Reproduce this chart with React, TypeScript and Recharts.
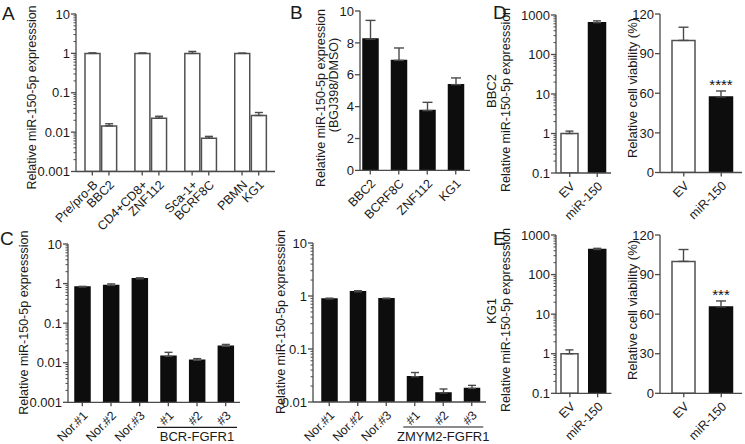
import React from 'react';
import { BarChart, Bar, XAxis, YAxis, ErrorBar, Cell, LabelList } from 'recharts';

const FONT = "Arial, 'Liberation Sans', Helvetica, sans-serif";
const TEXT = '#1a1a1a';
const AXIS = '#4a4a4a';
const TS = 5;
const TM = 2;

// ---------- Panel A ----------
const aCategories = ['Pre/pro-B', 'BBC2', ' ', 'CD4+CD8+', 'ZNF112', '  ', 'Sca-1+', 'BCRF8C', '   ', 'PBMN', 'KG1'];
const aValues = [1, 0.0144, null, 1, 0.0226, null, 1, 0.007, null, 1, 0.0265];
const aErrors = [0.03, 0.0019, null, 0.02, 0.0027, null, 0.12, 0.0008, null, 0.01, 0.005];
const aFills = ['w', 'w', 'w', 'w', 'w', 'w', 'w', 'w', 'w', 'w', 'w'];
const aTicks = [0.001, 0.01, 0.1, 1, 10];

// ---------- Panel B ----------
const bCategories = ['BBC2', 'BCRF8C', 'ZNF112', 'KG1'];
const bValues = [8.24, 6.9, 3.75, 5.38];
const bErrors = [1.17, 0.78, 0.52, 0.42];
const bFills = ['k', 'k', 'k', 'k'];
const bTicks = [0, 2, 4, 6, 8, 10];

// ---------- Panel C ----------
const cCategories = ['Nor.#1', 'Nor.#2', 'Nor.#3', '#1', '#2', '#3'];
const cLeftValues = [0.82, 0.9, 1.32, 0.0145, 0.0115, 0.026];
const cLeftErrors = [0.03, 0.08, 0.08, 0.0038, 0.0012, 0.003];
const cRightValues = [0.88, 1.2, 0.89, 0.03, 0.0148, 0.018];
const cRightErrors = [0.03, 0.06, 0.02, 0.006, 0.0028, 0.0026];
const cFills = ['k', 'k', 'k', 'k', 'k', 'k'];
const cLeftTicks = [0.001, 0.01, 0.1, 1, 10];
const cRightTicks = [0.01, 0.1, 1, 10];
const cLeftGroup = 'BCR-FGFR1';
const cRightGroup = 'ZMYM2-FGFR1';

// ---------- Panels D / E ----------
const deCategories = ['EV', 'miR-150'];
const deFills = ['w', 'k'];
const dExprValues = [1.0, 640];
const dExprErrors = [0.15, 70];
const dViabValues = [100, 57.2];
const dViabErrors = [10, 4.5];
const dSig = ['', '****'];
const eExprValues = [1.0, 430];
const eExprErrors = [0.25, 30];
const eViabValues = [100, 65.5];
const eViabErrors = [9, 4.5];
const eSig = ['', '***'];
const exprTicks = [0.1, 1, 10, 100, 1000];
const viabTicks = [0, 30, 60, 90, 120];

function withMinor(majors: number[]) {
  const out: number[] = [];
  for (let i = 0; i < majors.length; i++) {
    out.push(majors[i]);
    if (i < majors.length - 1) for (let k = 2; k <= 9; k++) out.push(majors[i] * k);
  }
  return out;
}

const isPow10 = (v: number) => {
  const l = Math.log10(v);
  return Math.abs(l - Math.round(l)) < 1e-9;
};

function makeYTick(log: boolean) {
  return (props: any) => {
    const { x, y, payload } = props;
    const ax = x + TS + TM;
    const v = payload.value;
    const major = !log || isPow10(v);
    const len = major ? 5 : 2.5;
    return (
      <g>
        <line x1={ax - len} x2={ax} y1={y} y2={y} stroke={AXIS} strokeWidth={major ? 1.3 : 1} />
        {major && (
          <text x={ax - 6} y={y} dy="0.36em" textAnchor="end" fontSize={13} fontFamily={FONT} fill={TEXT}>
            {String(v)}
          </text>
        )}
      </g>
    );
  };
}

function makeXTick(group?: { at: string; text: string; half: number }) {
  return (props: any) => {
    const { x, y, payload } = props;
    const ay = y - TS - TM;
    const label: string = payload?.value ?? '';
    if (!label.trim()) return <g />;
    return (
      <g>
        <line x1={x} x2={x} y1={ay} y2={ay + 4} stroke={AXIS} strokeWidth={1.3} />
        <text
          transform={`translate(${x + 6},${ay + 14}) rotate(-45)`}
          textAnchor="end"
          fontSize={12.5}
          fontFamily={FONT}
          fill={TEXT}
        >
          {label}
        </text>
        {group && label === group.at && (
          <g>
            <line x1={x - group.half} x2={x + group.half} y1={ay + 25} y2={ay + 25} stroke={TEXT} strokeWidth={1.2} />
            <text x={x} y={ay + 39} textAnchor="middle" fontSize={13} fontFamily={FONT} fill={TEXT}>
              {group.text}
            </text>
          </g>
        )}
      </g>
    );
  };
}

const SigLabel = (props: any) => {
  const vb = props.viewBox || props;
  const value = props.value;
  if (!value) return null;
  return (
    <text x={vb.x + vb.width / 2} y={vb.y - 7} textAnchor="middle" fontSize={15} fontFamily={FONT} fill="#111">
      {value}
    </text>
  );
};

type Spec = {
  left: number;
  top: number;
  w: number;
  h: number;
  cats: string[];
  vals: (number | null)[];
  errs: (number | null)[];
  fills: string[];
  log: boolean;
  domain: [number, number];
  ticks: number[];
  barSize: number;
  padL?: number;
  padR?: number;
  capHalf: number;
  group?: { at: string; text: string; half: number };
  sig?: string[];
};

function Panel(s: Spec) {
  const YW = 60;
  const MT = 10;
  const MR = 12;
  const XH = 80;
  const data = s.cats.map((c, i) => ({
    name: c,
    value: s.vals[i],
    err: s.errs[i] == null ? null : [0, s.errs[i]],
    sig: s.sig ? s.sig[i] : '',
  }));
  return (
    <div style={{ position: 'absolute', left: s.left - YW, top: s.top - MT }}>
      <BarChart
        width={YW + s.w + MR}
        height={MT + s.h + XH}
        data={data}
        margin={{ top: MT, right: MR, bottom: 0, left: 0 }}
        barCategoryGap={0}
      >
        <XAxis
          dataKey="name"
          type="category"
          height={XH}
          interval={0}
          tickSize={TS}
          tickMargin={TM}
          tickLine={false}
          axisLine={{ stroke: AXIS, strokeWidth: 1.3 }}
          padding={{ left: s.padL ?? 0, right: s.padR ?? 0 }}
          tick={makeXTick(s.group)}
        />
        <YAxis
          type="number"
          scale={s.log ? 'log' : 'linear'}
          domain={s.domain}
          ticks={s.ticks}
          allowDataOverflow
          width={YW}
          interval={0}
          tickSize={TS}
          tickMargin={TM}
          tickLine={false}
          axisLine={{ stroke: AXIS, strokeWidth: 1.3 }}
          tick={makeYTick(s.log)}
        />
        <Bar dataKey="value" barSize={s.barSize} isAnimationActive={false}>
          {data.map((d, i) => (
            <Cell
              key={i}
              fill={s.fills[i] === 'w' ? '#ffffff' : '#0d0d0d'}
              stroke={s.fills[i] === 'w' ? '#505050' : '#0d0d0d'}
              strokeWidth={1.5}
            />
          ))}
          <ErrorBar dataKey="err" direction="y" width={s.capHalf} stroke={AXIS} strokeWidth={1.4} />
          {s.sig && <LabelList dataKey="sig" content={SigLabel} />}
        </Bar>
      </BarChart>
    </div>
  );
}

const vText = (x: number, y: number, text: string, size = 12.5) => (
  <text
    transform={`translate(${x},${y}) rotate(-90)`}
    textAnchor="middle"
    fontSize={size}
    fontFamily={FONT}
    fill={TEXT}
  >
    {text}
  </text>
);

const letter = (x: number, y: number, t: string) => (
  <text x={x} y={y} fontSize={19} fontFamily={FONT} fill={TEXT}>
    {t}
  </text>
);

export default function App() {
  const exprLabel = 'Relative miR-150-5p expresssion';
  return (
    <div
      style={{
        position: 'absolute',
        left: 0,
        top: 0,
        width: 745,
        height: 444,
        background: '#fff',
        overflow: 'hidden',
        fontFamily: FONT,
      }}
    >
      <Panel left={76} top={14} w={199} h={157.5} cats={aCategories} vals={aValues} errs={aErrors} fills={aFills}
        log domain={[0.001, 10]} ticks={withMinor(aTicks)} barSize={15} padL={8} padR={8} capHalf={4} />
      <Panel left={360} top={11.3} w={110} h={159.4} cats={bCategories} vals={bValues} errs={bErrors} fills={bFills}
        log={false} domain={[0, 10]} ticks={bTicks} barSize={15} padL={-4} padR={0} capHalf={5} />
      <Panel left={67.7} top={244} w={172} h={158.3} cats={cCategories} vals={cLeftValues} errs={cLeftErrors} fills={cFills}
        log domain={[0.001, 10]} ticks={withMinor(cLeftTicks)} barSize={15} capHalf={4}
        group={{ at: '#2', text: cLeftGroup, half: 40 }} />
      <Panel left={313.3} top={243.3} w={173} h={159} cats={cCategories} vals={cRightValues} errs={cRightErrors} fills={cFills}
        log domain={[0.01, 10]} ticks={withMinor(cRightTicks)} barSize={15} padL={2} capHalf={4}
        group={{ at: '#2', text: cRightGroup, half: 40 }} />
      <Panel left={556} top={15} w={55} h={158} cats={deCategories} vals={dExprValues} errs={dExprErrors} fills={deFills}
        log domain={[0.1, 1000]} ticks={withMinor(exprTicks)} barSize={17} capHalf={4} />
      <Panel left={660} top={13.5} w={82} h={158.5} cats={deCategories} vals={dViabValues} errs={dViabErrors} fills={deFills}
        log={false} domain={[0, 120]} ticks={viabTicks} barSize={23} padL={5} padR={2} capHalf={5} sig={dSig} />
      <Panel left={556} top={235} w={55.5} h={158.3} cats={deCategories} vals={eExprValues} errs={eExprErrors} fills={deFills}
        log domain={[0.1, 1000]} ticks={withMinor(exprTicks)} barSize={17} capHalf={4} />
      <Panel left={660} top={235} w={82} h={158.3} cats={deCategories} vals={eViabValues} errs={eViabErrors} fills={deFills}
        log={false} domain={[0, 120]} ticks={viabTicks} barSize={23} padL={5} padR={2} capHalf={5} sig={eSig} />

      <svg style={{ position: 'absolute', left: 0, top: 0, pointerEvents: 'none' }} width={745} height={444}>
        {letter(2, 20, 'A')}
        {letter(290, 19, 'B')}
        {letter(0, 245, 'C')}
        {letter(493, 19, 'D')}
        {letter(493, 245, 'E')}
        {vText(36, 97.5, exprLabel)}
        {vText(325, 98, 'Relative miR-150-5p expression')}
        {vText(338, 85, '(BGJ398/DMSO)')}
        {vText(27.5, 322.7, exprLabel)}
        {vText(284.5, 322, exprLabel)}
        {vText(496, 91, 'BBC2', 13)}
        {vText(510, 100, exprLabel)}
        {vText(637, 88, 'Relative cell viability (%)', 13)}
        {vText(496, 311, 'KG1', 13)}
        {vText(510, 320, exprLabel)}
        {vText(637, 310, 'Relative cell viability (%)', 13)}
      </svg>
    </div>
  );
}
